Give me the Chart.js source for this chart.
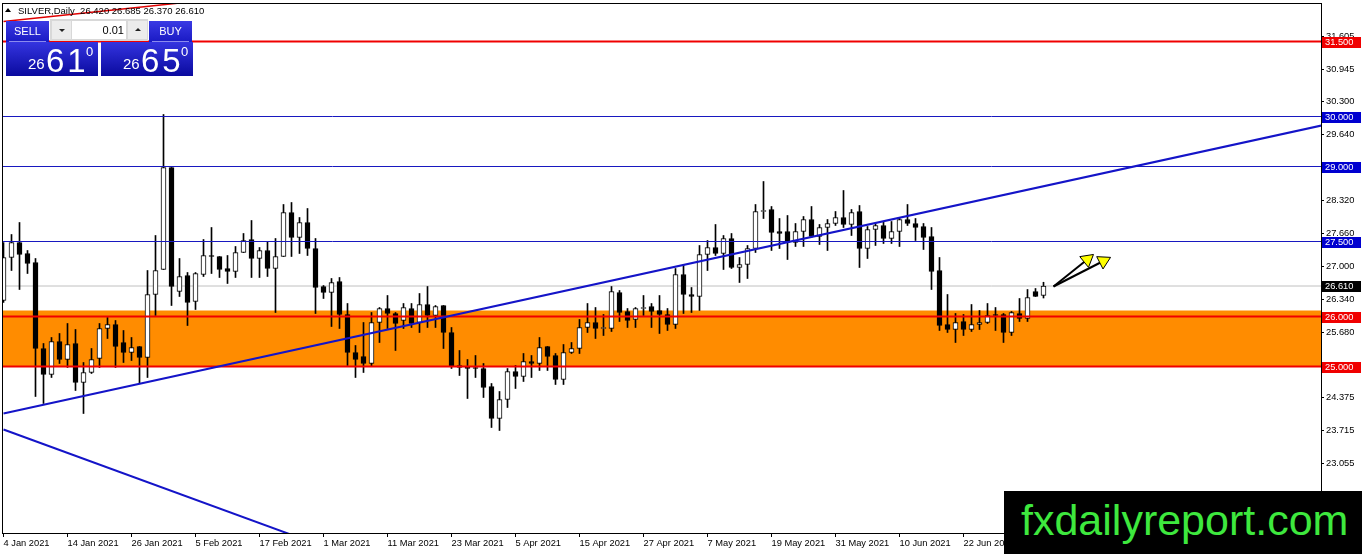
<!DOCTYPE html>
<html>
<head>
<meta charset="utf-8">
<title>SILVER, Daily</title>
<script src="https://cdn.jsdelivr.net/npm/chart.js@4.4.1/dist/chart.umd.min.js"></script>
<style>
  body { margin: 0; background: #fff; }
  #wrap { position: relative; width: 1362px; height: 554px; overflow: hidden; font-family: "Liberation Sans", Arial, sans-serif; }
  #chart { position: absolute; left: 0; top: 0; }
  .tri { position: absolute; left: 5px; top: 8px; width: 0; height: 0; border-left: 3px solid transparent; border-right: 3px solid transparent; border-bottom: 4px solid #000; }
  .hdr { position: absolute; left: 18px; top: 5px; font-size: 9.5px; line-height: 12px; color: #000; white-space: pre; }
  .btn { position: absolute; top: 21px; width: 43px; height: 21px; background: linear-gradient(#3a3ae4, #1a1ac4); color: #fff; font-size: 11px; line-height: 21px; text-align: center; }
  .btn:after { content: ""; position: absolute; left: 3px; right: 3px; bottom: 0; height: 1px; background: #8a8aee; }
  .spin { position: absolute; left: 50px; top: 19px; width: 98px; height: 22px; background: #d8d8d8; }
  .sb { position: absolute; top: 2px; width: 19px; height: 18px; background: #ececec; }
  .sb.l { left: 2px; }
  .sb.r { left: 78px; }
  .sb span { position: absolute; left: 7px; width: 0; height: 0; border-left: 3px solid transparent; border-right: 3px solid transparent; }
  .dn { top: 8px; border-top: 3px solid #222; }
  .up { top: 7px; border-bottom: 3px solid #222; }
  .lot { position: absolute; left: 22px; top: 2px; width: 54px; height: 18px; background: #fff; font-size: 11px; line-height: 18px; text-align: right; padding-right: 2px; box-sizing: border-box; }
  .quote { position: absolute; top: 42px; width: 92px; height: 34px; background: linear-gradient(#3434e0, #0a0a9e); color: #fff; }
  .quote .s { position: absolute; left: 22px; top: 14px; font-size: 15px; line-height: 15px; }
  .quote .b { position: absolute; left: 40px; top: 2px; font-size: 33px; line-height: 33px; letter-spacing: 3px; }
  .quote .p { position: absolute; left: 80px; top: 3px; font-size: 13px; line-height: 13px; }
  .mark { position: absolute; left: 1004px; top: 491px; width: 358px; height: 63px; background: #000; color: #3ee83e; font-size: 43px; line-height: 58px; padding-left: 17px; box-sizing: border-box; white-space: nowrap; }
</style>
</head>
<body>
<div id="wrap">
  <canvas id="chart" width="1362" height="554"></canvas>
  <div class="tri"></div>
  <div class="hdr">SILVER,Daily  26.420 26.685 26.370 26.610</div>
  <div class="btn" style="left:6px">SELL</div>
  <div class="spin">
    <div class="sb l"><span class="dn"></span></div>
    <div class="lot">0.01</div>
    <div class="sb r"><span class="up"></span></div>
  </div>
  <div class="btn" style="left:149px">BUY</div>
  <div class="quote" style="left:6px"><span class="s">26</span><span class="b">61</span><span class="p">0</span></div>
  <div class="quote" style="left:101px"><span class="s">26</span><span class="b">65</span><span class="p">0</span></div>
  <div class="mark">fxdailyreport.com</div>
</div>
<script>
// daily bars, 4 Jan 2021 .. 6 Jul 2021 (index = bar number)
const opens = [
  26.32, 27.18, 27.48, 27.26, 27.08, 25.36, 24.84, 25.50, 25.14, 25.46,
  24.68, 24.88, 25.16, 25.76, 25.84, 25.48, 25.28, 25.40, 25.18, 26.44,
  26.94, 28.98, 26.50, 26.82, 26.30, 26.84, 27.22, 27.20, 26.96, 26.90,
  27.28, 27.54, 27.16, 27.32, 26.96, 27.20, 28.08, 27.58, 27.88, 27.36,
  26.60, 26.48, 26.70, 26.04, 25.28, 25.20, 25.06, 25.88, 26.16, 26.06,
  25.92, 26.16, 25.88, 26.24, 26.02, 26.22, 25.68, 25.02, 25.00, 24.98,
  24.96, 24.60, 23.96, 24.34, 24.90, 24.80, 25.10, 25.06, 25.40, 25.22,
  24.74, 25.28, 25.36, 25.78, 25.88, 25.76, 25.76, 26.48, 26.10, 25.94,
  26.16, 26.20, 26.12, 26.04, 25.84, 26.84, 26.44, 26.40, 27.24, 27.38,
  27.26, 27.56, 26.98, 27.04, 27.36, 28.10, 28.14, 27.70, 27.70, 27.48,
  27.70, 27.94, 27.60, 27.78, 27.86, 27.98, 27.84, 28.10, 27.36, 27.74,
  27.82, 27.56, 27.70, 27.94, 27.86, 27.80, 27.60, 26.92, 25.84, 25.74,
  25.90, 25.74, 25.84, 25.88, 26.04, 26.04, 25.68, 26.06, 25.96, 26.50,
  26.42
];
const highs = [
  27.48, 27.64, 27.88, 27.32, 27.16, 25.46, 25.58, 25.66, 25.86, 25.74,
  25.08, 25.36, 25.86, 25.98, 25.92, 25.72, 25.58, 25.40, 26.92, 27.62,
  30.04, 28.98, 27.16, 26.88, 26.88, 27.54, 27.78, 27.20, 27.22, 27.40,
  27.66, 27.92, 27.38, 27.50, 27.56, 28.24, 28.28, 27.98, 28.16, 27.56,
  26.62, 26.76, 26.78, 26.26, 25.42, 25.88, 26.08, 26.18, 26.42, 26.08,
  26.26, 26.26, 26.46, 26.60, 26.22, 26.22, 25.78, 25.32, 25.14, 25.22,
  25.06, 24.66, 24.50, 24.96, 25.02, 25.26, 25.22, 25.58, 25.40, 25.26,
  25.44, 25.48, 25.94, 26.26, 26.18, 26.04, 26.60, 26.52, 26.16, 26.18,
  26.42, 26.26, 26.42, 26.16, 26.96, 27.04, 26.58, 27.42, 27.52, 27.84,
  27.62, 27.66, 27.18, 27.42, 28.24, 28.70, 28.20, 27.96, 28.02, 27.86,
  28.00, 28.20, 27.84, 27.94, 28.10, 28.52, 28.14, 28.22, 27.80, 27.86,
  27.90, 27.90, 27.98, 28.24, 27.96, 27.86, 27.78, 27.18, 26.44, 26.06,
  26.04, 26.24, 26.12, 26.26, 26.18, 26.06, 26.10, 26.36, 26.54, 26.56,
  26.685
];
const lows = [
  26.28, 26.92, 26.54, 26.86, 24.40, 24.26, 24.78, 25.06, 24.98, 24.52,
  24.06, 24.86, 24.98, 25.56, 24.98, 25.08, 25.12, 24.66, 24.78, 26.02,
  26.94, 26.22, 26.40, 25.82, 26.14, 26.80, 26.86, 26.78, 26.66, 26.78,
  27.28, 26.78, 26.78, 26.80, 26.08, 27.20, 27.20, 27.26, 27.22, 26.06,
  26.36, 25.80, 25.76, 25.02, 24.78, 24.88, 25.00, 25.48, 25.76, 25.32,
  25.76, 25.78, 25.68, 25.78, 25.78, 25.36, 24.96, 24.82, 24.36, 24.78,
  24.38, 23.78, 23.72, 24.18, 24.56, 24.70, 24.78, 24.92, 24.92, 24.64,
  24.64, 25.26, 25.26, 25.68, 25.56, 25.62, 25.70, 25.90, 25.78, 25.78,
  26.02, 25.78, 25.66, 25.72, 25.76, 26.06, 26.08, 26.12, 26.92, 27.22,
  26.94, 26.96, 26.68, 26.76, 27.28, 27.96, 27.32, 27.36, 27.14, 27.40,
  27.40, 27.58, 27.44, 27.32, 27.82, 27.78, 27.62, 26.98, 27.16, 27.42,
  27.46, 27.46, 27.40, 27.82, 27.52, 27.34, 26.54, 25.72, 25.68, 25.48,
  25.62, 25.70, 25.74, 25.86, 25.72, 25.48, 25.62, 25.90, 25.90, 26.40,
  26.37
];
const closes = [
  27.18, 27.48, 27.24, 27.06, 25.36, 24.84, 25.50, 25.14, 25.44, 24.68,
  24.88, 25.14, 25.76, 25.84, 25.40, 25.28, 25.38, 25.18, 26.44, 26.92,
  28.98, 26.60, 26.80, 26.28, 26.86, 27.22, 27.20, 26.94, 26.90, 27.28,
  27.52, 27.16, 27.32, 26.96, 27.20, 28.08, 27.58, 27.88, 27.36, 26.58,
  26.48, 26.68, 26.04, 25.28, 25.14, 25.06, 25.88, 26.16, 26.06, 25.86,
  26.18, 25.86, 26.24, 26.02, 26.20, 25.68, 25.00, 24.98, 24.96, 24.96,
  24.58, 23.96, 24.34, 24.90, 24.80, 25.10, 25.06, 25.38, 25.20, 24.74,
  25.28, 25.36, 25.78, 25.88, 25.76, 25.77, 26.50, 26.08, 25.92, 26.16,
  26.18, 26.10, 26.04, 25.84, 26.84, 26.44, 26.40, 27.24, 27.38, 27.26,
  27.56, 26.98, 27.04, 27.36, 28.10, 28.12, 27.68, 27.66, 27.48, 27.70,
  27.94, 27.60, 27.78, 27.86, 27.98, 27.84, 28.08, 27.36, 27.74, 27.82,
  27.56, 27.70, 27.94, 27.86, 27.78, 27.58, 26.90, 25.82, 25.74, 25.88,
  25.74, 25.84, 25.88, 26.02, 26.02, 25.68, 26.08, 25.96, 26.38, 26.40,
  26.61
];

// time axis labels every 8 bars
const dateTickIdx = [0, 8, 16, 24, 32, 40, 48, 56, 64, 72, 80, 88, 96, 104, 112, 120, 128];
const dateLabels = ['4 Jan 2021', '14 Jan 2021', '26 Jan 2021', '5 Feb 2021', '17 Feb 2021', '1 Mar 2021',
  '11 Mar 2021', '23 Mar 2021', '5 Apr 2021', '15 Apr 2021', '27 Apr 2021', '7 May 2021',
  '19 May 2021', '31 May 2021', '10 Jun 2021', '22 Jun 2021', '2 Jul 2021'];

// price scale labels
const priceTicks = [31.605, 30.945, 30.300, 29.640, 28.980, 28.320, 27.660, 27.000, 26.340, 25.680, 25.020, 24.375, 23.715, 23.055, 22.395];

// drawn objects
const levelValues = [31.5, 30.0, 29.0, 27.5, 26.0, 25.0];
const levelColors = ['#f00000', '#1818c0', '#1818c0', '#1818c0', '#f00000', '#f00000'];
const levelWidths = [2, 1, 1, 1, 2, 2];
const bidPrice = 26.61;
const zoneTop = 26.12;
const zoneBottom = 25.0;
const trendUp = [[0, 24.06], [164.75, 29.82]];
const trendDown = [[0, 23.74], [40, 21.40]];
const trendRed = [[0, 31.90], [25, 32.32]];
const arrowOne = [[131.25, 26.60], [135.47, 27.14]];
const arrowTwo = [[131.25, 26.60], [137.49, 27.11]];

const xMin = -0.0625, xMax = 164.6875;

function seg(pts, color, width, order, extra) {
  return Object.assign({
    type: 'line',
    data: pts.map(p => ({x: p[0], y: p[1]})),
    borderColor: color,
    borderWidth: width,
    pointRadius: 0,
    fill: false,
    tension: 0,
    order: order
  }, extra || {});
}

const datasets = [];
// orange support zone
datasets.push(seg([[xMin, zoneTop], [xMax, zoneTop]], 'rgba(0,0,0,0)', 0, 20));
datasets.push(seg([[xMin, zoneBottom], [xMax, zoneBottom]], 'rgba(0,0,0,0)', 0, 20, {fill: '-1', backgroundColor: '#ff8c00'}));
// bid line
datasets.push(seg([[xMin, bidPrice], [xMax, bidPrice]], '#c0c0c0', 1, 15));
// candles
datasets.push({
  type: 'bar',
  data: opens.map((o, i) => ({x: i, y: [lows[i], highs[i]]})),
  backgroundColor: '#000',
  borderWidth: 0,
  barThickness: 1,
  grouped: false,
  order: 6
});
datasets.push({
  type: 'bar',
  data: opens.map((o, i) => ({x: i, y: [o, closes[i]]})),
  backgroundColor: opens.map((o, i) => closes[i] >= o ? '#ffffff' : '#000000'),
  borderColor: '#000',
  borderWidth: 1,
  borderSkipped: false,
  barThickness: 5,
  minBarLength: 1,
  grouped: false,
  order: 5
});
// horizontal levels
levelValues.forEach((v, i) => {
  datasets.push(seg([[xMin, v], [xMax, v]], levelColors[i], levelWidths[i], 3));
});
// trend lines
datasets.push(seg(trendUp, '#1414c8', 2, 2));
datasets.push(seg(trendDown, '#1414c8', 2, 2));
datasets.push(seg(trendRed, '#e00000', 1.5, 2));
// arrows
const arrowStyle = {pointRadius: [0, 8], pointStyle: 'triangle', pointRotation: [0, 51],
  pointBackgroundColor: '#ffff00', pointBorderColor: '#000', pointBorderWidth: 1};
datasets.push(seg(arrowOne, '#000', 2, 1, arrowStyle));
datasets.push(seg(arrowTwo, '#000', 2, 1, Object.assign({}, arrowStyle, {pointRotation: [0, 63]})));

// price tags on the right scale
const tagValues = levelValues.concat([bidPrice]);
const tagColors = ['#f00000', '#0000d0', '#0000d0', '#0000d0', '#f00000', '#f00000', '#000000'];

const framePlugin = {
  id: 'frame',
  afterDraw(chart) {
    const {ctx, chartArea: a, scales: {y}} = chart;
    ctx.save();
    ctx.strokeStyle = '#000';
    ctx.lineWidth = 1;
    ctx.strokeRect(a.left - 0.5, a.top - 0.5, a.right - a.left + 1, a.bottom - a.top + 1);
    ctx.font = '9.3px "Liberation Sans", Arial, sans-serif';
    ctx.textBaseline = 'middle';
    tagValues.forEach((v, i) => {
      const py = Math.round(y.getPixelForValue(v));
      ctx.fillStyle = tagColors[i];
      ctx.fillRect(a.right + 1, py - 5, 39, 11);
      ctx.fillStyle = '#fff';
      ctx.fillText(v.toFixed(3), a.right + 4, py + 0.5);
    });
    ctx.restore();
  }
};

Chart.defaults.font.family = '"Liberation Sans", Arial, sans-serif';
Chart.defaults.font.size = 9.3;
Chart.defaults.color = '#000';

new Chart(document.getElementById('chart'), {
  type: 'bar',
  data: {datasets: datasets},
  options: {
    responsive: false,
    animation: false,
    layout: {autoPadding: false, padding: {left: 3, top: 4, right: 0, bottom: 0}},
    plugins: {legend: {display: false}, tooltip: {enabled: false}},
    scales: {
      x: {
        type: 'linear',
        min: xMin,
        max: xMax,
        offset: false,
        grid: {drawOnChartArea: false, offset: false, tickLength: 4, color: '#000'},
        border: {color: '#000'},
        ticks: {autoSkip: false, maxRotation: 0, align: 'start', padding: 1,
          callback: (v, i) => dateLabels[i]},
        afterBuildTicks: s => { s.ticks = dateTickIdx.map(v => ({value: v})); },
        afterFit: s => { s.height = 21; s.paddingLeft = 0; s.paddingRight = 0; }
      },
      y: {
        position: 'right',
        min: 21.67,
        max: 32.25,
        grid: {drawOnChartArea: false, tickLength: 3, color: '#000'},
        border: {color: '#000'},
        ticks: {padding: 2, callback: v => v.toFixed(3)},
        afterBuildTicks: s => { s.ticks = priceTicks.map(v => ({value: v})); },
        afterFit: s => { s.width = 41; s.paddingTop = 0; s.paddingBottom = 0; }
      }
    }
  },
  plugins: [framePlugin]
});
</script>
</body>
</html>
